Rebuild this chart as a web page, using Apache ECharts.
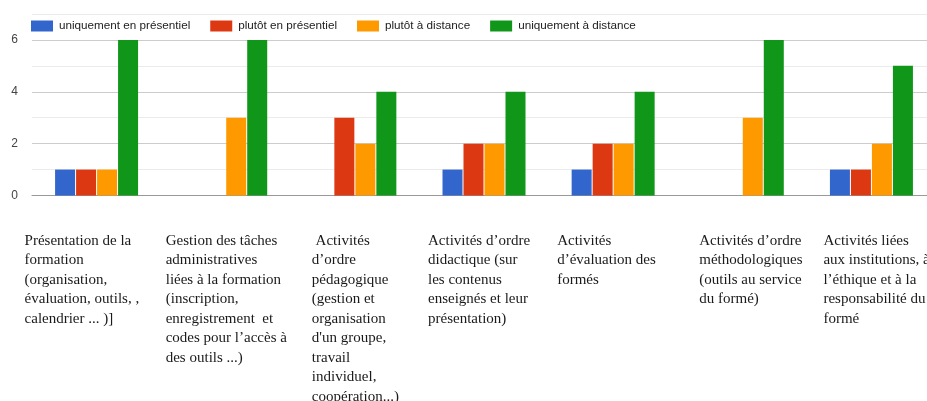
<!DOCTYPE html>
<html>
<head>
<meta charset="utf-8">
<script src="https://cdn.jsdelivr.net/npm/echarts@6/dist/echarts.min.js"></script>
<style>
  html, body { margin: 0; padding: 0; background: #fff; overflow: hidden; }
  /* the plot runs a little past the right edge of the window */
  #chart { width: 936px; height: 401px; }
</style>
</head>
<body>
<div id="chart"></div>
<script>
// Activity categories (wrapped as they are laid out under the axis)
const categories = [
  "Présentation de la\nformation\n(organisation,\névaluation, outils, ,\ncalendrier ... )]",
  "Gestion des tâches\nadministratives\nliées à la formation\n(inscription,\nenregistrement  et\ncodes pour l’accès à\ndes outils ...)",
  " Activités\nd’ordre\npédagogique\n(gestion et\norganisation\nd'un groupe,\ntravail\nindividuel,\ncoopération...)",
  "Activités d’ordre\ndidactique (sur\nles contenus\nenseignés et leur\nprésentation)",
  "Activités\nd’évaluation des\nformés",
  "Activités d’ordre\nméthodologiques\n(outils au service\ndu formé)",
  "Activités liées\naux institutions, à\nl’éthique et à la\nresponsabilité du\nformé"
];

const seriesNames = [
  "uniquement en présentiel",
  "plutôt en présentiel",
  "plutôt à distance",
  "uniquement à distance"
];

const uniquementPresentiel = [1, 0, 0, 1, 1, 0, 1];
const plutotPresentiel     = [1, 0, 3, 2, 2, 0, 1];
const plutotDistance       = [1, 3, 2, 2, 2, 3, 2];
const uniquementDistance   = [6, 6, 4, 4, 4, 6, 5];

const yTickLabels = [0, 2, 4, 6];

// horizontal shift of each category caption relative to its category centre
const captionShift = [-72, -60, -43, -56, -56, -43, -48];

const colors = ["#3366cc", "#dc3912", "#ff9900", "#109618"];
const values = [uniquementPresentiel, plutotPresentiel, plutotDistance, uniquementDistance];

const chart = echarts.init(document.getElementById("chart"));

chart.setOption({
  animation: false,
  color: colors,
  textStyle: { fontFamily: "Arial, 'Liberation Sans', sans-serif" },
  legend: {
    left: 31,
    top: 20,
    padding: 0,
    itemWidth: 22,
    itemHeight: 11,
    itemGap: 20,
    icon: "rect",
    textStyle: { color: "#222", fontSize: 11.7, padding: [0, 0, 0, 1] },
    data: seriesNames
  },
  grid: { left: 32, top: 14, right: 0, height: 181.5, containLabel: false },
  xAxis: {
    type: "category",
    data: categories,
    axisLine: { show: true, lineStyle: { color: "#999", width: 1 } },
    axisTick: { show: false },
    axisLabel: { show: false },
    splitLine: { show: false }
  },
  yAxis: {
    type: "value",
    min: 0,
    max: 7,
    interval: 1,
    axisLine: { show: false },
    axisTick: { show: false },
    axisLabel: {
      color: "#444",
      fontSize: 12,
      margin: 14,
      formatter: v => (yTickLabels.indexOf(v) >= 0 ? String(v) : "")
    },
    splitLine: { lineStyle: { color: ["#ccc", "#ebebeb"], width: 1 } }
  },
  series: values.map((vals, i) => ({
    name: seriesNames[i],
    type: "bar",
    data: vals,
    barWidth: 20,
    barGap: "5%",
    itemStyle: { color: colors[i] }
  }))
});

// Category captions written below the plot, in a serif face
const captions = categories.map((cat, i) => {
  const cx = chart.convertToPixel({ xAxisIndex: 0 }, i);
  return {
    type: "text",
    silent: true,
    style: {
      text: cat,
      x: cx + captionShift[i],
      y: 231,
      fontFamily: "'Liberation Serif', 'Times New Roman', serif",
      fontSize: 15,
      lineHeight: 19.5,
      fill: "#1a1a1a",
      align: "left",
      verticalAlign: "top"
    }
  };
});
chart.setOption({ graphic: captions });
</script>
</body>
</html>
